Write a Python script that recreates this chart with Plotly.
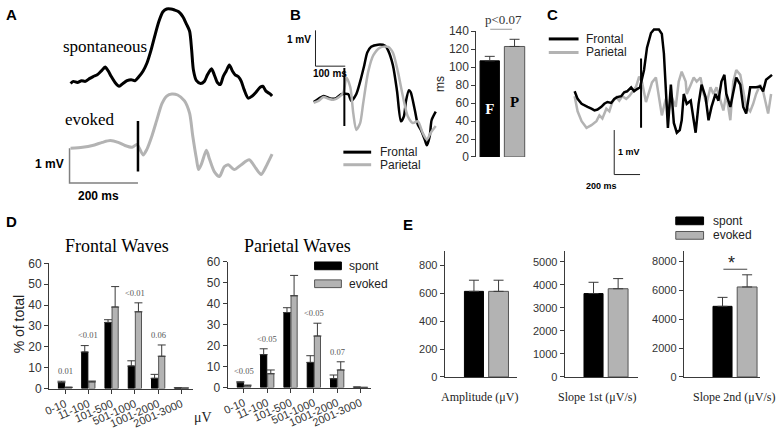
import plotly.graph_objects as go

W, H = 776, 433
SANS = "Liberation Sans, Arial, sans-serif"
SERIF = "Liberation Serif, Times New Roman, serif"
BLACK = "#000000"
GREY_LINE = "#b3b3b3"
GREY_BAR = "#b3b3b3"
GREY_EDGE = "#555555"
AXIS = "#3a3a3a"
TICK = "#333333"

# ---------------- Panel A : example waves (time ms, amplitude mV) ----------------
A_spont_t = [-197, -189, -177, -165, -154, -142, -131, -119, -107, -96,
             -87, -78, -67, -55, -44, -32, -20, -9, 3, 15,
             26, 38, 49, 61, 73, 84, 96, 107, 119, 131,
             142, 151, 157, 162, 171, 183, 194, 203, 215, 223,
             232, 241, 249, 258, 267, 276, 284, 293, 302, 310,
             322, 334, 345, 357, 365, 374, 386, 392]
A_spont_v = [2.86, 2.92, 2.89, 2.94, 2.92, 3.00, 3.06, 3.11, 3.22, 3.33,
             3.22, 3.06, 2.89, 2.78, 2.86, 2.94, 2.97, 2.94, 3.06, 3.22,
             3.44, 3.81, 4.22, 4.64, 4.92, 5.00, 5.00, 4.97, 4.92, 4.78,
             4.56, 4.36, 3.81, 3.25, 2.94, 2.86, 2.92, 3.11, 3.28, 3.11,
             2.89, 2.83, 3.06, 3.22, 3.39, 3.22, 3.11, 3.06, 2.92, 2.69,
             2.44, 2.50, 2.61, 2.75, 2.78, 2.64, 2.56, 2.50]
A_evoked_t = [-197, -162, -133, -104, -81, -58, -38, -17, -3, 15,
              26, 41, 55, 70, 84, 99, 116, 136, 151, 160,
              171, 177, 186, 200, 209, 223, 238, 252, 264, 281,
              302, 325, 345, 360, 377, 392]
A_evoked_v = [1.00, 1.03, 1.08, 1.17, 1.22, 1.17, 1.08, 1.03, 1.11, 0.81,
              0.97, 1.36, 1.81, 2.28, 2.50, 2.56, 2.53, 2.36, 2.00, 1.36,
              0.69, 0.39, 0.56, 0.94, 0.69, 0.33, 0.19, 0.47, 0.53, 0.39,
              0.53, 0.67, 0.42, 0.25, 0.53, 0.83]
A_stim_t = [0, 0]
A_stim_v = [0.33, 1.78]
A_scale = dict(t0=-200, v0=0.0, ms=200, mv=1.0)

# ---------------- Panel B : frontal vs parietal evoked ----------------
B_front_t = [-103, -87, -70, -60, -43, -27, -10, 13, 23, 40,
             53, 67, 77, 90, 113, 137, 147, 163, 177, 190,
             200, 207, 217, 223, 237, 247, 257, 270, 277, 287,
             293, 307]
B_front_v = [0.05, 0.14, 0.22, 0.19, 0.14, 0.16, 0.27, 0.27, 0.08, 0.27,
             0.62, 1.08, 1.43, 1.59, 1.65, 1.62, 1.49, 1.08, 0.35, -0.49,
             -0.35, 0.08, 0.38, 0.32, -0.19, -0.59, -0.73, -1.00, -1.16, -0.89,
             -0.46, -0.22]
B_par_t = [-103, -87, -70, -53, -37, -13, -3, 7, 20, 30,
           40, 53, 63, 80, 97, 120, 147, 163, 180, 197,
           213, 230, 247, 263, 277, 290, 307]
B_par_v = [0.03, 0.08, 0.19, 0.14, 0.11, 0.22, 0.32, 0.73, 0.46, -0.27,
           -0.73, -0.54, 0.00, 0.89, 1.35, 1.57, 1.59, 1.43, 0.89, 0.19,
           -0.35, -0.54, -0.49, -0.81, -1.00, -0.81, -0.62]
B_stim_t = [0, 0]
B_stim_v = [1.00, -0.62]
B_scale = dict(t0=-97, v0=1.05, ms=100, mv=1.0)

B_bar_labels = ["F", "P"]
B_bar_vals = [107, 123]
B_bar_errs = [5, 8]

# ---------------- Panel C : spontaneous frontal vs parietal ----------------
C_front_t = [-515, -492, -461, -438, -415, -385, -361, -338, -308, -285,
             -261, -231, -208, -185, -154, -131, -108, -77, -54, -31,
             -8, 23, 46, 77, 100, 138, 161, 177, 192, 208,
             231, 254, 277, 300, 315, 331, 354, 385, 408, 423,
             446, 469, 500, 523, 546, 577, 600, 623, 646, 661,
             692, 715, 738, 769, 792, 815, 846, 869, 892, 923,
             946, 969, 1000, 1015]
C_front_v = [0.28, 0.11, 0.00, -0.04, -0.07, -0.11, -0.15, -0.13, -0.07, 0.00,
             0.04, 0.02, 0.11, 0.15, 0.17, 0.26, 0.28, 0.37, 0.28, 0.33,
             0.37, 0.76, 1.26, 1.59, 1.67, 1.67, 1.57, 1.13, 0.39, -0.54,
             0.43, -0.43, -0.65, -0.59, -0.37, 0.22, 0.00, 0.07, -0.37, -0.65,
             0.00, 0.43, 0.15, -0.37, -0.07, 0.22, 0.07, 0.50, 0.65, 0.22,
             -0.07, 0.28, 0.59, 0.43, -0.07, -0.22, 0.37, 0.37, 0.37, 0.39,
             0.28, 0.54, 0.61, 0.65]
C_par_t = [-515, -492, -461, -423, -385, -346, -323, -300, -269, -246,
           -223, -192, -169, -146, -115, -92, -69, -38, -15, 8,
           38, 62, 85, 115, 138, 161, 192, 215, 238, 269,
           292, 315, 346, 354, 385, 408, 431, 461, 485, 508,
           538, 561, 585, 615, 638, 661, 692, 715, 738, 769,
           792, 815, 846, 869, 892, 923, 946, 969, 985, 1008]
C_par_v = [0.17, -0.17, -0.39, -0.54, -0.48, -0.39, -0.26, -0.33, -0.11, -0.17,
           0.04, 0.15, 0.07, 0.17, 0.11, 0.17, 0.26, 0.39, 0.61, 0.48,
           0.04, 0.26, 0.48, 0.59, 0.17, -0.26, 0.11, -0.15, 0.15, -0.07,
           0.50, 0.72, 0.50, 0.22, 0.43, 0.59, 0.50, 0.59, 0.22, 0.00,
           0.37, 0.22, 0.37, 0.07, -0.15, 0.22, -0.37, 0.50, 0.76, 0.65,
           0.28, -0.07, -0.17, 0.00, 0.22, 0.43, 0.28, 0.00, -0.22, 0.22]
C_stim_t = [0, 0]
C_stim_v = [1.02, -0.54]
C_scale = dict(t0=-208, v0=-1.59, ms=200, mv=1.0)

# ---------------- Panel D : amplitude distributions ----------------
D_cats = ["0-10", "11-100", "101-500", "501-1000", "1001-2000", "2001-3000"]
FRONT_spont = [2.8, 17.5, 31.7, 10.8, 4.9, 0.3]
FRONT_spont_err = [0.7, 3.1, 1.3, 2.5, 1.9, 0.0]
FRONT_evoked = [0.6, 3.2, 39.1, 36.8, 15.5, 0.2]
FRONT_evoked_err = [0.0, 0.4, 9.8, 4.3, 5.4, 0.0]
FRONT_p = ["0.01", "<0.01", "", "<0.01", "0.06", ""]
PAR_spont = [2.3, 15.7, 35.8, 12.0, 4.2, 0.2]
PAR_spont_err = [0.5, 2.8, 2.3, 3.2, 1.8, 0.0]
PAR_evoked = [0.8, 6.6, 43.8, 24.6, 8.4, 0.1]
PAR_evoked_err = [0.4, 1.8, 9.7, 6.1, 3.9, 0.0]
PAR_p = ["<0.05", "<0.05", "", "<0.05", "0.07", ""]

# ---------------- Panel E : wave parameters ----------------
E_names = ["Amplitude (\u03bcV)", "Slope 1st (\u03bcV/s)", "Slope 2nd (\u03bcV/s)"]
E_spont = [615, 3620, 4880]
E_spont_err = [80, 490, 620]
E_evoked = [615, 3830, 6220]
E_evoked_err = [80, 440, 840]
E_dtick = [200, 1000, 2000]

# ================= figure =================
fig = go.Figure()


def xd(a, b):
    return [a / W, b / W]


def yd(top, bottom):
    return [1 - bottom / H, 1 - top / H]


def px(x):
    return x / W


def py(y):
    return 1 - y / H


def line_trace(t, v, color, width, ax, shape="spline"):
    fig.add_trace(go.Scatter(x=t, y=v, mode="lines", xaxis="x" + ax, yaxis="y" + ax,
                             line=dict(color=color, width=width, shape=shape, smoothing=0.7),
                             showlegend=False, hoverinfo="skip"))


def scale_bar(sb, color, width, ax):
    fig.add_trace(go.Scatter(
        x=[sb["t0"], sb["t0"], sb["t0"] + sb["ms"]],
        y=[sb["v0"] + sb["mv"], sb["v0"], sb["v0"]],
        mode="lines", xaxis="x" + ax, yaxis="y" + ax,
        line=dict(color=color, width=width), showlegend=False, hoverinfo="skip"))


# Panel A
line_trace(A_spont_t, A_spont_v, BLACK, 3, "")
line_trace(A_evoked_t, A_evoked_v, GREY_LINE, 3, "")
line_trace(A_stim_t, A_stim_v, BLACK, 2.5, "", "linear")
scale_bar(A_scale, "#808080", 1.5, "")

# Panel B traces
line_trace(B_front_t, B_front_v, BLACK, 2.5, "2")
line_trace(B_par_t, B_par_v, GREY_LINE, 2.5, "2")
line_trace(B_stim_t, B_stim_v, BLACK, 2, "2", "linear")
scale_bar(B_scale, "#222222", 1, "2")

# Panel B bars
fig.add_trace(go.Bar(x=[0], y=[B_bar_vals[0]], width=0.78, xaxis="x3", yaxis="y3",
                     marker=dict(color=BLACK, line=dict(color=BLACK, width=1)),
                     error_y=dict(type="data", array=[B_bar_errs[0]], arrayminus=[0], symmetric=False,
                                  color=AXIS, thickness=1, width=5),
                     text=["<b>" + B_bar_labels[0] + "</b>"], textposition="inside",
                     insidetextanchor="middle", textangle=0,
                     textfont=dict(family=SERIF, size=15, color="white"),
                     showlegend=False, hoverinfo="skip"))
fig.add_trace(go.Bar(x=[1], y=[B_bar_vals[1]], width=0.82, xaxis="x3", yaxis="y3",
                     marker=dict(color=GREY_BAR, line=dict(color=GREY_EDGE, width=1)),
                     error_y=dict(type="data", array=[B_bar_errs[1]], arrayminus=[0], symmetric=False,
                                  color=AXIS, thickness=1, width=5),
                     text=["<b>" + B_bar_labels[1] + "</b>"], textposition="inside",
                     insidetextanchor="middle", textangle=0,
                     textfont=dict(family=SERIF, size=15, color="black"),
                     showlegend=False, hoverinfo="skip"))

# Panel C traces
line_trace(C_par_t, C_par_v, GREY_LINE, 2.5, "4", "linear")
line_trace(C_front_t, C_front_v, BLACK, 2.5, "4", "linear")
line_trace(C_stim_t, C_stim_v, BLACK, 2, "4", "linear")
scale_bar(C_scale, "#222222", 1, "4")


# Panel D bars
def dist_bars(ax, spont, spont_err, evoked, evoked_err):
    fig.add_trace(go.Bar(x=D_cats, y=spont, offset=-0.285, width=0.265, xaxis="x" + ax, yaxis="y" + ax,
                         marker=dict(color=BLACK, line=dict(color=BLACK, width=1)),
                         error_y=dict(type="data", array=spont_err, arrayminus=[0] * len(spont),
                                      symmetric=False, color=AXIS, thickness=1, width=4),
                         showlegend=False, hoverinfo="skip"))
    fig.add_trace(go.Bar(x=D_cats, y=evoked, offset=0.02, width=0.265, xaxis="x" + ax, yaxis="y" + ax,
                         marker=dict(color=GREY_BAR, line=dict(color=GREY_EDGE, width=1)),
                         error_y=dict(type="data", array=evoked_err, arrayminus=[0] * len(evoked),
                                      symmetric=False, color=AXIS, thickness=1, width=4),
                         showlegend=False, hoverinfo="skip"))


dist_bars("5", FRONT_spont, FRONT_spont_err, FRONT_evoked, FRONT_evoked_err)
dist_bars("6", PAR_spont, PAR_spont_err, PAR_evoked, PAR_evoked_err)

# Panel E bars
for i, ax in enumerate(["7", "8", "9"]):
    fig.add_trace(go.Bar(x=[0], y=[E_spont[i]], offset=-0.55, width=0.48, xaxis="x" + ax, yaxis="y" + ax,
                         marker=dict(color=BLACK, line=dict(color=BLACK, width=1)),
                         error_y=dict(type="data", array=[E_spont_err[i]], arrayminus=[0], symmetric=False,
                                      color=AXIS, thickness=1, width=5),
                         showlegend=False, hoverinfo="skip"))
    fig.add_trace(go.Bar(x=[0], y=[E_evoked[i]], offset=0.06, width=0.5, xaxis="x" + ax, yaxis="y" + ax,
                         marker=dict(color=GREY_BAR, line=dict(color=GREY_EDGE, width=1)),
                         error_y=dict(type="data", array=[E_evoked_err[i]], arrayminus=[0], symmetric=False,
                                      color=AXIS, thickness=1, width=5),
                         showlegend=False, hoverinfo="skip"))

# ================= axes =================
hidden = dict(visible=False, fixedrange=True)


def bar_y(domain, rng, dtick, anchor, size=12):
    return dict(domain=domain, range=rng, anchor=anchor, dtick=dtick, tick0=0, tickmode="linear",
                showline=True, linecolor=AXIS, linewidth=1, ticks="outside", ticklen=4,
                tickcolor=AXIS, showgrid=False, zeroline=False,
                tickfont=dict(family=SANS, size=size, color=TICK))


def cat_x(domain, rng, anchor):
    return dict(domain=domain, range=rng, anchor=anchor, type="category",
                tickmode="array", tickvals=D_cats, ticktext=D_cats, tickangle=-24,
                showline=True, linecolor=AXIS, linewidth=1, ticks="outside", ticklen=4,
                tickcolor=AXIS, showgrid=False, zeroline=False,
                tickfont=dict(family=SANS, size=11, color=TICK))


def plain_x(domain, rng, anchor, line=True):
    return dict(domain=domain, range=rng, anchor=anchor, showline=line, linecolor=AXIS, linewidth=1,
                ticks="", showticklabels=False, showgrid=False, zeroline=False)


layout_axes = dict(
    xaxis=dict(domain=xd(60, 272), range=[-211.7, 403.1], anchor="y", **hidden),
    yaxis=dict(domain=yd(0, 200), range=[-0.5, 5.056], anchor="x", **hidden),
    xaxis2=dict(domain=xd(305, 440), range=[-120, 330], anchor="y2", **hidden),
    yaxis2=dict(domain=yd(15, 170), range=[-1.892, 2.297], anchor="x2", **hidden),
    xaxis3=plain_x(xd(474, 525), [-0.54, 1.5], "y3", line=False),
    yaxis3=bar_y(yd(25, 155), [0, 140], 20, "x3", 12),
    xaxis4=dict(domain=xd(565, 776), range=[-577, 1046], anchor="y4", **hidden),
    yaxis4=dict(domain=yd(10, 195), range=[-2.065, 1.957], anchor="x4", **hidden),
    xaxis5=cat_x(xd(43.3, 188.3), [-0.69, 5.49], "y5"),
    yaxis5=bar_y(yd(265, 394.3), [0, 60], 10, "x5", 12),
    xaxis6=cat_x(xd(223.3, 368.3), [-0.70, 5.47], "y6"),
    yaxis6=bar_y(yd(263.3, 393.3), [0, 60], 10, "x6", 12),
    xaxis7=plain_x(xd(442, 515), [-1.05, 0.775], "y7"),
    yaxis7=bar_y(yd(252, 382.3), [0, 906], E_dtick[0], "x7", 11),
    xaxis8=plain_x(xd(563, 637), [-1.0375, 0.8125], "y8"),
    yaxis8=bar_y(yd(252, 382.3), [0, 5475], E_dtick[1], "x8", 11),
    xaxis9=plain_x(xd(683, 760), [-1.2875, 0.6375], "y9"),
    yaxis9=bar_y(yd(252, 382.3), [0, 8716], E_dtick[2], "x9", 11),
)

# ================= annotations =================
ann = []


def text(x, y, s, size, family=SANS, color=BLACK, xanchor="center", yanchor="middle",
         angle=0, xref="paper", yref="paper", xshift=0, yshift=0):
    ann.append(dict(x=x, y=y, text=s, xref=xref, yref=yref, showarrow=False,
                    font=dict(family=family, size=size, color=color), xanchor=xanchor,
                    yanchor=yanchor, textangle=angle, xshift=xshift, yshift=yshift))


# Panel letters
for lab, (lx, ly) in {"A": (6, 8), "B": (292, 8), "C": (551, 8), "D": (6, 222), "E": (405, 225)}.items():
    text(px(lx), py(ly), "<b>" + lab + "</b>", 15)

# Panel A texts
text(px(100), py(41), "spontaneous", 17, SERIF)
text(px(85), py(116), "evoked", 17, SERIF)
text(A_scale["t0"], A_scale["v0"] + 0.55 * A_scale["mv"], "<b>1 mV</b>", 12, xanchor="right",
     xref="x", yref="y", xshift=-4)
text(A_scale["t0"] + A_scale["ms"] / 2, A_scale["v0"], "<b>200 ms</b>", 12, yanchor="top",
     xref="x", yref="y", xshift=-5, yshift=-4)

# Panel B texts
text(B_scale["t0"], B_scale["v0"] + 0.75 * B_scale["mv"], "<b>1 mV</b>", 10, xanchor="right",
     xref="x2", yref="y2", xshift=-2)
text(B_scale["t0"] + B_scale["ms"] / 2, B_scale["v0"], "<b>100 ms</b>", 10, yanchor="top",
     xref="x2", yref="y2", yshift=0)
text(px(375), py(150), "Frontal", 12, xanchor="left", color="#222")
text(px(375), py(163), "Parietal", 12, xanchor="left", color="#222")
text(px(438), py(80), "ms", 12, angle=-90, color="#222")
text(px(501), py(13), "p&lt;0.07", 13, SERIF, color="#333")

# Panel C texts
text(px(582), py(33), "Frontal", 12, xanchor="left", color="#222")
text(px(582), py(47), "Parietal", 12, xanchor="left", color="#222")
text(C_scale["t0"], C_scale["v0"] + 0.5 * C_scale["mv"], "<b>1 mV</b>", 9, xanchor="left",
     xref="x4", yref="y4", xshift=2)
text(C_scale["t0"] - C_scale["ms"] / 2, C_scale["v0"], "<b>200 ms</b>", 9, yanchor="top",
     xref="x4", yref="y4", yshift=-4)

# Panel D texts
text(px(112), py(247), "Frontal Waves", 18, SERIF)
text(px(294), py(247), "Parietal Waves", 18, SERIF)
text(px(13), py(328), "% of total", 14, angle=-90, color="#222")
text(px(199), py(424), "\u03bcV", 14, SERIF, color="#222")
for ax, labels, s, se, e, ee in [("5", FRONT_p, FRONT_spont, FRONT_spont_err, FRONT_evoked, FRONT_evoked_err),
                                 ("6", PAR_p, PAR_spont, PAR_spont_err, PAR_evoked, PAR_evoked_err)]:
    for i, lab in enumerate(labels):
        if lab:
            top = max(s[i] + se[i], e[i] + ee[i]) + 3
            text(D_cats[i], top, lab.replace("<", "&lt;"), 8.5, SERIF, color="#555555",
                 xref="x" + ax, yref="y" + ax, yanchor="bottom", yshift=-3)
text(px(344), py(268), "spont", 12, xanchor="left", color="#222")
text(px(344), py(286), "evoked", 12, xanchor="left", color="#222")

# Panel E texts
for name, cx in zip(E_names, [477, 595.5, 733.5]):
    text(px(cx), py(403), name, 12, SERIF, color="#222")
text(px(710), py(221), "spont", 12, xanchor="left", color="#222")
text(px(710), py(236), "evoked", 12, xanchor="left", color="#222")
text(px(731), py(265), "*", 18, color="#222")

# ================= shapes (legend keys, brackets) =================
shapes = []


def hline(x0, x1, y, color, width):
    shapes.append(dict(type="line", xref="paper", yref="paper", x0=px(x0), x1=px(x1),
                       y0=py(y), y1=py(y), line=dict(color=color, width=width)))


def box(x0, x1, y0, y1, fill, edge):
    shapes.append(dict(type="rect", xref="paper", yref="paper", x0=px(x0), x1=px(x1),
                       y0=py(y1), y1=py(y0), fillcolor=fill, line=dict(color=edge, width=1)))


hline(340, 368, 150, BLACK, 3)
hline(340, 368, 163, GREY_LINE, 3)
hline(547, 577, 33, BLACK, 3)
hline(547, 577, 47, GREY_LINE, 3)
hline(488, 510, 23, "#999999", 1)
hline(723, 747, 271, "#444444", 1)
box(311, 338, 263.5, 271.5, BLACK, BLACK)
box(311, 338, 282, 290, GREY_BAR, GREY_EDGE)
box(675, 703, 217, 225, BLACK, BLACK)
box(675, 703, 232, 240, GREY_BAR, GREY_EDGE)

fig.update_layout(
    width=W, height=H, margin=dict(l=0, r=0, t=0, b=0),
    paper_bgcolor="white", plot_bgcolor="white",
    barmode="overlay", showlegend=False,
    annotations=ann, shapes=shapes,
    font=dict(family=SANS, color=BLACK),
    **layout_axes,
)

fig.write_html("out.html", config={"displayModeBar": False},
               post_script="document.body.style.margin='0';document.body.style.overflow='hidden';")
